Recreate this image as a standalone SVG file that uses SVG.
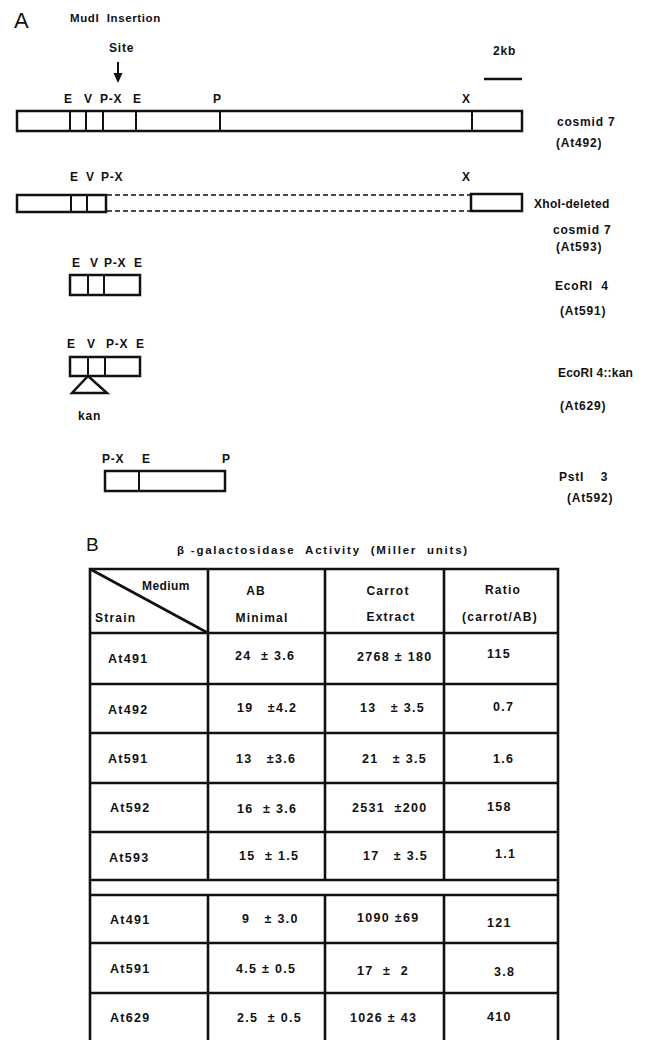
<svg xmlns="http://www.w3.org/2000/svg" width="654" height="1040" viewBox="0 0 654 1040" xml:space="preserve">
<style>
text{font-family:"Liberation Sans",Arial,sans-serif;fill:#111;white-space:pre;}
.b{font-weight:bold;font-size:12px;letter-spacing:0.8px;}
.t{font-weight:bold;font-size:12.5px;letter-spacing:1.3px;}
.h{font-weight:bold;font-size:12px;letter-spacing:1.2px;}
.big{font-size:22px;}
.box{fill:#fff;stroke:#111;stroke-width:2.5;}
.div{stroke:#111;stroke-width:2;}
.dash{stroke:#111;stroke-width:1.5;stroke-dasharray:5,3;fill:none;}
.tl{stroke:#111;stroke-width:2.6;fill:none;}
.m{text-anchor:middle;}
</style>
<rect width="654" height="1040" fill="#fff"/>
<g id="panelA">
<text x="14" y="28" class="big">A</text>
<text x="70" y="22" class="b" style="font-size:11.5px;letter-spacing:0.6px">MudI  Insertion</text>
<text x="109" y="52" class="b">Site</text>
<g id="arrow"><line x1="118" y1="62" x2="118" y2="75" class="div"/><polygon points="113.5,73 122.5,73 118,83" fill="#111"/></g>
<g id="scale"><text x="493" y="55" class="b">2kb</text><line x1="484" y1="79" x2="522" y2="79" stroke="#111" stroke-width="2.5"/></g>
<g id="cosmid7">
<text x="64" y="103" class="b">E</text><text x="84" y="103" class="b">V</text><text x="100" y="103" class="b">P-X</text><text x="133" y="103" class="b">E</text><text x="213" y="103" class="b">P</text><text x="462" y="103" class="b">X</text>
<rect x="17" y="111" width="505" height="20" class="box"/>
<line x1="70" y1="111" x2="70" y2="131" class="div"/><line x1="86" y1="111" x2="86" y2="131" class="div"/><line x1="103" y1="111" x2="103" y2="131" class="div"/><line x1="136" y1="111" x2="136" y2="131" class="div"/><line x1="220" y1="111" x2="220" y2="131" class="div"/><line x1="472" y1="111" x2="472" y2="131" class="div"/>
<text x="557" y="126" class="b">cosmid 7</text><text x="556" y="147" class="b">(At492)</text>
</g>
<g id="xhoi">
<text x="70" y="181" class="b">E</text><text x="86" y="181" class="b">V</text><text x="101" y="181" class="b">P-X</text><text x="462" y="181" class="b">X</text>
<rect x="17" y="195" width="89" height="17" class="box"/>
<line x1="71" y1="195" x2="71" y2="212" class="div"/><line x1="87" y1="195" x2="87" y2="212" class="div"/>
<line x1="107" y1="195" x2="471" y2="195" class="dash"/><line x1="107" y1="211" x2="471" y2="211" class="dash"/>
<rect x="471" y="194" width="51" height="17" class="box"/>
<text x="534" y="208" class="b" style="letter-spacing:0.3px">XhoI-deleted</text><text x="553" y="234" class="b">cosmid 7</text><text x="556" y="251" class="b">(At593)</text>
</g>
<g id="ecori4">
<text x="72" y="267" class="b">E</text><text x="90" y="267" class="b">V</text><text x="104" y="267" class="b">P-X</text><text x="134" y="267" class="b">E</text>
<rect x="70" y="275" width="70" height="20" class="box"/>
<line x1="88" y1="275" x2="88" y2="295" class="div"/><line x1="104" y1="275" x2="104" y2="295" class="div"/>
<text x="555" y="290" class="b">EcoRI  4</text><text x="560" y="315" class="b">(At591)</text>
</g>
<g id="ecori4kan">
<text x="67" y="348" class="b">E</text><text x="87" y="348" class="b">V</text><text x="106" y="348" class="b">P-X</text><text x="136" y="348" class="b">E</text>
<rect x="70" y="357" width="70" height="19" class="box"/>
<line x1="88" y1="357" x2="88" y2="376" class="div"/><line x1="105" y1="357" x2="105" y2="376" class="div"/>
<polygon points="88,376 72,393 107,393" fill="#fff" stroke="#111" stroke-width="2.5" stroke-linejoin="miter"/>
<text x="78" y="420" class="b">kan</text>
<text x="558" y="377" class="b" style="letter-spacing:0.2px">EcoRI 4::kan</text><text x="560" y="410" class="b">(At629)</text>
</g>
<g id="psti3">
<text x="102" y="463" class="b">P-X</text><text x="142" y="463" class="b">E</text><text x="222" y="463" class="b">P</text>
<rect x="105" y="471" width="120" height="20" class="box"/>
<line x1="139" y1="471" x2="139" y2="491" class="div"/>
<text x="559" y="481" class="b">PstI    3</text><text x="567" y="502" class="b">(At592)</text>
</g>
</g>
<g id="panelB">
<text x="86" y="551" style="font-size:19px">B</text>
<text x="177" y="554" class="b" style="font-size:11.5px" textLength="291" lengthAdjust="spacing">β -galactosidase  Activity  (Miller  units)</text>
<g id="grid">
<polyline points="90,1040 90,569 558,569 558,1040" class="tl"/>
<line x1="90" y1="569" x2="208" y2="633" class="tl" stroke-width="3"/>
<line x1="208" y1="569" x2="208" y2="880" class="tl"/><line x1="325" y1="569" x2="325" y2="880" class="tl"/><line x1="444" y1="569" x2="444" y2="880" class="tl"/>
<line x1="208" y1="895" x2="208" y2="1040" class="tl"/><line x1="325" y1="895" x2="325" y2="1040" class="tl"/><line x1="444" y1="895" x2="444" y2="1040" class="tl"/>
<line x1="90" y1="633" x2="558" y2="633" class="tl"/><line x1="90" y1="684" x2="558" y2="684" class="tl"/><line x1="90" y1="733" x2="558" y2="733" class="tl"/><line x1="90" y1="783" x2="558" y2="783" class="tl"/><line x1="90" y1="832" x2="558" y2="832" class="tl"/><line x1="90" y1="880" x2="558" y2="880" class="tl"/><line x1="90" y1="895" x2="558" y2="895" class="tl"/><line x1="90" y1="943" x2="558" y2="943" class="tl"/><line x1="90" y1="993" x2="558" y2="993" class="tl"/>
</g>
<g id="header">
<text x="142" y="590" class="h" style="letter-spacing:0.4px">Medium</text><text x="95" y="622" class="h">Strain</text>
<text x="256" y="595" class="h m">AB</text><text x="262" y="622" class="h m">Minimal</text>
<text x="388" y="595" class="h m">Carrot</text><text x="391" y="621" class="h m">Extract</text>
<text x="503" y="594" class="h m">Ratio</text><text x="500" y="621" class="h m">(carrot/AB)</text>
</g>
<g id="rows">
<text x="108" y="663" class="t">At491</text><text x="235" y="660" class="t">24  ± 3.6</text><text x="357" y="661" class="t">2768 ± 180</text><text x="487" y="658" class="t">115</text>
<text x="108" y="714" class="t">At492</text><text x="237" y="712" class="t">19   ±4.2</text><text x="360" y="712" class="t">13   ± 3.5</text><text x="493" y="711" class="t">0.7</text>
<text x="108" y="763" class="t">At591</text><text x="236" y="763" class="t">13   ±3.6</text><text x="362" y="763" class="t">21   ± 3.5</text><text x="493" y="763" class="t">1.6</text>
<text x="110" y="812" class="t">At592</text><text x="237" y="813" class="t">16  ± 3.6</text><text x="352" y="812" class="t">2531  ±200</text><text x="487" y="811" class="t">158</text>
<text x="109" y="862" class="t">At593</text><text x="239" y="860" class="t">15  ± 1.5</text><text x="363" y="860" class="t">17   ± 3.5</text><text x="495" y="858" class="t">1.1</text>
<text x="110" y="924" class="t">At491</text><text x="242" y="923" class="t">9   ± 3.0</text><text x="357" y="922" class="t">1090 ±69</text><text x="487" y="927" class="t">121</text>
<text x="110" y="973" class="t">At591</text><text x="236" y="973" class="t">4.5 ± 0.5</text><text x="357" y="975" class="t">17  ±  2</text><text x="494" y="976" class="t">3.8</text>
<text x="110" y="1022" class="t">At629</text><text x="237" y="1022" class="t">2.5  ± 0.5</text><text x="350" y="1022" class="t">1026 ± 43</text><text x="487" y="1021" class="t">410</text>
</g>
</g>
</svg>
